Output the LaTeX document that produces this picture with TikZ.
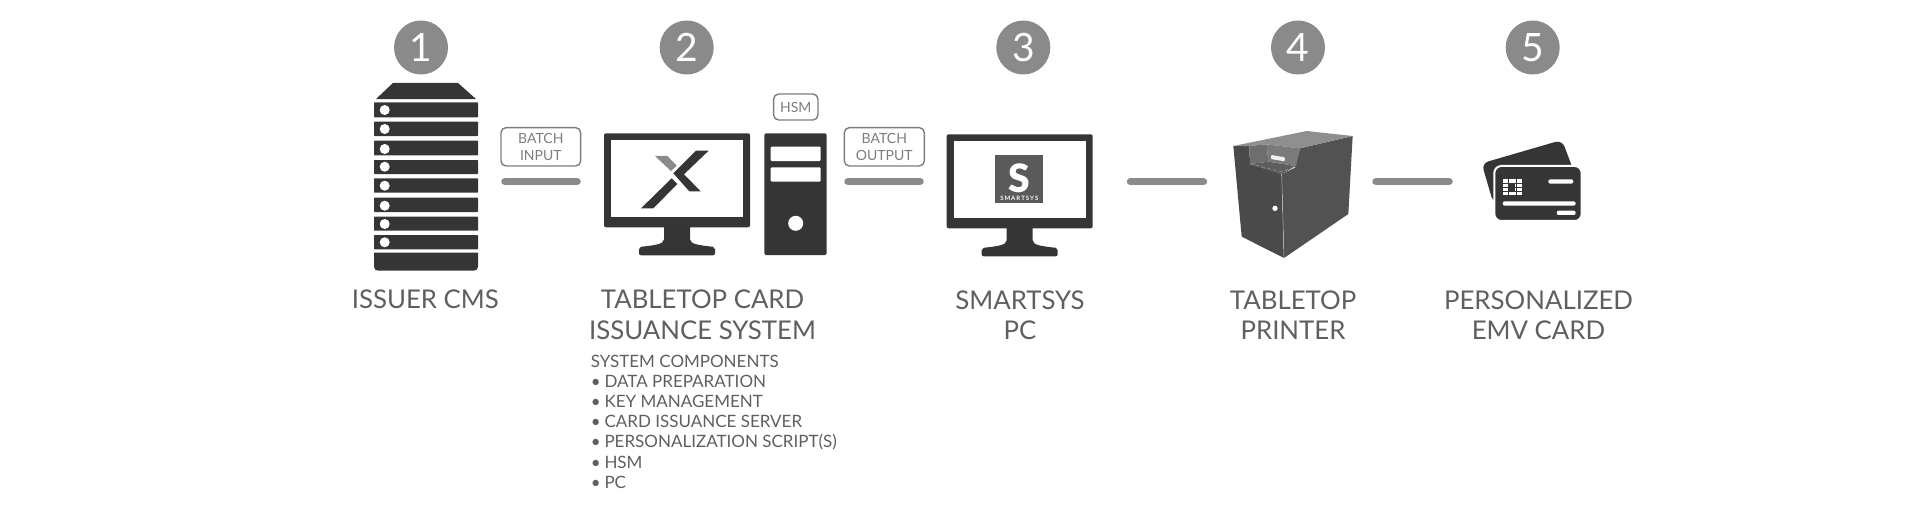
\documentclass[tikz,border=0pt]{standalone}
\usepackage{fontspec}
\setmainfont{Lato}
\newfontfamily\logofont{Lato Black}
\definecolor{dark}{HTML}{353535}
\definecolor{midg}{HTML}{8A8A8A}
\definecolor{labelg}{HTML}{5F5F5F}
\definecolor{tagg}{HTML}{7D7D7D}
\definecolor{slogog}{HTML}{5A5A5A}
\definecolor{prleft}{HTML}{4A4A4A}
\definecolor{prright}{HTML}{525252}
\definecolor{prtop}{HTML}{8F8F8F}
\definecolor{prrecl}{HTML}{6E6E6E}
\definecolor{prrecr}{HTML}{7A7A7A}
\definecolor{prrecb}{HTML}{5E5E5E}
\tikzset{
  x=1pt,y=-1pt,
  badge/.style={circle,fill=midg,minimum size=54pt,inner sep=0pt,text=white,font=\fontsize{39}{39}\selectfont},
  tag/.style={draw=tagg,line width=1.4pt,rounded corners=5pt,inner sep=0pt,text=tagg,align=center,font=\fontsize{14}{17.5}\selectfont},
  bar/.style={draw=midg,line width=7.5pt,line cap=round},
  biglabel/.style={anchor=south,inner sep=0pt,text depth=0pt,align=center,text=labelg,font=\fontsize{25.8}{30.6}\selectfont},
  rack/.style={fill=dark,rounded corners=0.6pt},
  holes/.style={fill=white},
  monitor/.pic={
    \fill[dark,rounded corners=2pt] (0,0) rectangle (146,94);
    \fill[white] (7,7) rectangle (139,84);
    \fill[dark] (60,92) -- (60,106) .. controls (60,111) and (50,112) .. (37,113.5)
      [rounded corners=2pt] -- (35,114) -- (35,122) -- (111,122) -- (111,114) [sharp corners] -- (109,113.5)
      .. controls (96,112) and (86,111) .. (86,106) -- (86,92) -- cycle;
  }
}
\begin{document}
\begin{tikzpicture}
\useasboundingbox (0,0) rectangle (1909,511);
% badges
\node[badge] (n1) at (421,47.5) {1};
\node[badge] (n2) at (686.7,47.5) {2};
\node[badge] (n3) at (1023.3,47.5) {3};
\node[badge] (n4) at (1298,47.5) {4};
\node[badge] (n5) at (1532.7,47.5) {5};
% server
\fill[dark] (393,83) -- (458,83) -- (476,99) -- (376,99) -- cycle;
\foreach \a/\b/\c in {102.3/117.3/110,121.7/136/129,140.7/155.3/149,160/174/166.7,178.3/192.7/185.7,197.7/212/205.7,216.7/230.7/224,235/249.3/242.3}{
  \fill[rack] (374,\a) rectangle (478,\b);
  \fill[holes] (384.7,\c) circle (5);
}
\fill[dark] (374,252.7) -- (478,252.7) -- (478,266.7) arc[start angle=0,end angle=90,x radius=4pt,y radius=-4pt] -- (378,270.7) arc[start angle=90,end angle=180,x radius=4pt,y radius=-4pt] -- cycle;
% monitors
\pic at (604,133.3) {monitor};
\pic at (946.7,134.3) {monitor};
% X logo
\begin{scope}[shift={(590,0)},x=1/3pt,y=-1/3pt]
  \fill[dark] (153,625) -- (190,625) -- (262,552) -- (245,535) -- cycle;
  \fill[dark] (250,520) -- (298,574) -- (332,574) -- (282,523) -- (356,452) -- (318,452) -- cycle;
  \fill[midg] (195,468) -- (232,468) -- (260,497) -- (243,513) -- cycle;
\end{scope}
% tower
\fill[dark,rounded corners=1.5pt] (764.3,133.3) rectangle (826.7,255);
\fill[white,rounded corners=1pt] (770.7,146.7) rectangle (820.7,161);
\fill[white,rounded corners=1pt] (770.7,167.3) rectangle (820.7,181.7);
\fill[white] (795.7,223.3) circle (7.5);
% S logo
\fill[slogog] (995.3,155.3) rectangle (1043.3,202.7);
\node[inner sep=0pt,text=white,font=\logofont\fontsize{39}{39}\selectfont] (slogo) at (1019.3,178.5) {S};
\node[inner sep=0pt,text=white,font=\fontsize{6}{6}\bfseries\selectfont] (sname) at (1019.3,198) {S\,M\,A\,R\,T\,S\,Y\,S};
% printer
\begin{scope}[shift={(1200,100)},x=1/3pt,y=-1/3pt]
  \fill[prleft] (100,138) -- (148,138) -- (150,192) -- (245,222) -- (252,474) -- (125,410) -- cycle;
  \fill[prright] (245,222) -- (285,203) -- (300,145) -- (458,108) -- (445,342) -- (252,474) -- cycle;
  \fill[prtop] (100,138) -- (320,93) -- (458,108) -- (300,145) -- (200,133) -- (148,138) -- cycle;
  \fill[prrecl] (148,138) -- (200,133) -- (205,185) -- (150,192) -- cycle;
  \fill[prrecr] (200,133) -- (300,145) -- (288,198) -- (205,185) -- cycle;
  \fill[prrecb] (150,192) -- (205,185) -- (288,198) -- (245,222) -- cycle;
  \draw[white,line width=0.5pt,opacity=.6] (245,222) -- (252,474);
  \draw[white,line width=0.5pt,opacity=.4,dashed] (150,192) -- (245,215) -- (285,200);
  \fill[white,opacity=.9,rounded corners=1pt] (213,165) -- (255,172) -- (254,184) -- (213,177) -- cycle;
  \fill[white] (225,325) circle (8);
\end{scope}
% cards
\begin{scope}[shift={(1360,0)},x=1/3pt,y=-1/3pt]
  \fill[dark,rounded corners=7pt] (365,490) -- (606,420) -- (640,510) -- (400,610) -- cycle;
  \filldraw[fill=dark,draw=white,line width=2pt,rounded corners=7pt] (403,498) rectangle (665,663);
  \fill[white] (428,538) rectangle (486,586);
  \draw[dark,line width=0.6pt] (428,551) -- (486,551) (428,562) -- (486,562) (428,574) -- (486,574) (446,538) -- (446,586) (468,538) -- (468,586);
  \fill[dark] (448,553) rectangle (466,572);
  \fill[white,rounded corners=2pt] (565,538) rectangle (640,551);
  \fill[white,rounded corners=2pt] (428,604) rectangle (647,617);
  \fill[white,rounded corners=2pt] (590,632) rectangle (647,645);
\end{scope}
% tags
\node[tag,minimum width=79.7pt,minimum height=38.3pt] (t1) at (540.8,146.8) {BATCH\\INPUT};
\node[tag,minimum width=80pt,minimum height=38.3pt] (t2) at (884.3,146.8) {BATCH\\OUTPUT};
\node[tag,minimum width=44.3pt,minimum height=26pt] (t3) at (795.8,107) {HSM};
% bars
\coordinate (b1a) at (505,181.6); \coordinate (b1b) at (577,181.6);
\coordinate (b2a) at (848,181.6); \coordinate (b2b) at (920,181.6);
\coordinate (b3a) at (1130.5,181.6); \coordinate (b3b) at (1203.5,181.6);
\coordinate (b4a) at (1376,181.6); \coordinate (b4b) at (1449,181.6);
\draw[bar] (b1a) -- (b1b);
\draw[bar] (b2a) -- (b2b);
\draw[bar] (b3a) -- (b3b);
\draw[bar] (b4a) -- (b4b);
% labels
\node[biglabel] (l1) at (425.3,308.5) {ISSUER CMS};
\node[biglabel] (l2) at (702.5,339.3) {TABLETOP CARD\\ISSUANCE SYSTEM};
\node[biglabel] (l3) at (1020,339.8) {SMARTSYS\\PC};
\node[biglabel] (l4) at (1293,339.8) {TABLETOP\\PRINTER};
\node[biglabel] (l5) at (1538.5,339.8) {PERSONALIZED\\EMV CARD};
\node[anchor=south west,inner sep=0pt,text depth=0pt,align=left,text=labelg,font=\fontsize{17}{20.2}\selectfont] (comp) at (590.7,488.5)
 {SYSTEM COMPONENTS\\
  \makebox[13.6pt][l]{•}DATA PREPARATION\\
  \makebox[13.6pt][l]{•}KEY MANAGEMENT\\
  \makebox[13.6pt][l]{•}CARD ISSUANCE SERVER\\
  \makebox[13.6pt][l]{•}PERSONALIZATION SCRIPT(S)\\
  \makebox[13.6pt][l]{•}HSM\\
  \makebox[13.6pt][l]{•}PC};
\end{tikzpicture}
\end{document}
